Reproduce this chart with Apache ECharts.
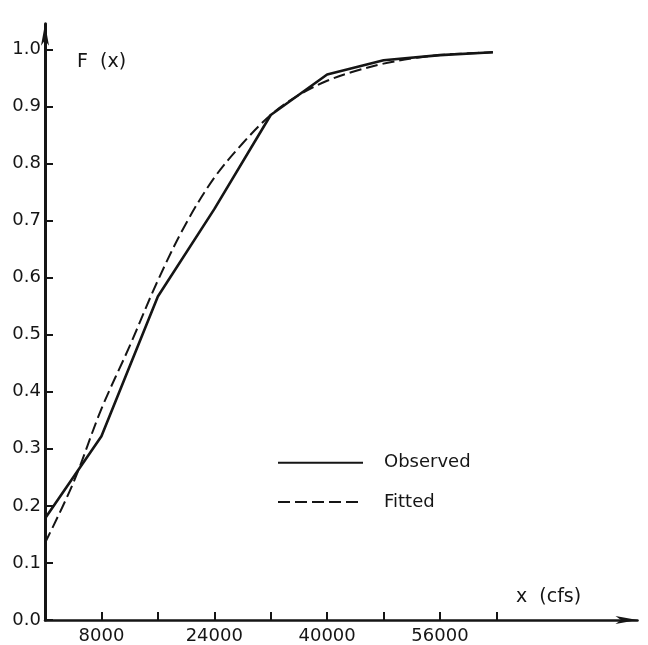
<!DOCTYPE html>
<html>
<head>
<meta charset="utf-8">
<script src="https://cdn.jsdelivr.net/npm/echarts@6/dist/echarts.min.js"></script>
<style>
html,body{margin:0;padding:0;background:#fff;}
#chart{width:648px;height:645px;}
</style>
</head>
<body>
<div id="chart"></div>
<script>
// ---- data ----
const xTickValues = [8000, 16000, 24000, 32000, 40000, 48000, 56000, 64000];
const xLabelValues = [8000, 24000, 40000, 56000];
const yTickValues = [0, 0.1, 0.2, 0.3, 0.4, 0.5, 0.6, 0.7, 0.8, 0.9, 1.0];

const observedX = [0, 8000, 16000, 24000, 32000, 40000, 48000, 56000, 63500];
const observedF = [0.178, 0.322, 0.567, 0.72, 0.885, 0.956, 0.981, 0.99, 0.995];

const fittedX = [0, 4000, 8000, 12000, 16000, 20000, 24000, 28000, 32000, 36000, 40000, 44000, 48000, 52000, 56000, 60000, 63500];
const fittedF = [0.135, 0.24, 0.37, 0.48, 0.595, 0.695, 0.775, 0.835, 0.885, 0.92, 0.945, 0.962, 0.975, 0.984, 0.99, 0.993, 0.995];

const seriesNames = ['Observed', 'Fitted'];
const yName = 'F  (x)';
const xName = 'x  (cfs)';

// ---- chart ----
const FONT = '"DejaVu Sans", Arial, sans-serif';
const INK = '#151515';
const chart = echarts.init(document.getElementById('chart'));

const zip = (xs, ys) => xs.map((x, i) => [x, ys[i]]);

chart.setOption({
  backgroundColor: '#ffffff',
  animation: false,
  grid: { left: 45, right: 10.5, top: 23.7, bottom: 24.5 },
  xAxis: {
    type: 'value', min: 0, max: 84000,
    splitLine: { show: false },
    axisLine: { show: true, lineStyle: { color: INK, width: 2.5 }, symbol: ['none', 'arrow'], symbolSize: [6, 22] },
    axisTick: { show: true, inside: true, length: 8, lineStyle: { color: INK, width: 2 }, customValues: xTickValues },
    axisLabel: { show: true, margin: 7, color: INK, fontFamily: FONT, fontSize: 18, customValues: xLabelValues, formatter: v => String(v) }
  },
  yAxis: {
    type: 'value', min: 0, max: 1.045,
    splitLine: { show: false },
    axisLine: { show: true, lineStyle: { color: INK, width: 3 }, symbol: ['none', 'arrow'], symbolSize: [6, 22] },
    axisTick: { show: true, inside: true, length: 8, lineStyle: { color: INK, width: 2 }, customValues: yTickValues },
    axisLabel: { show: true, margin: 4, color: INK, fontFamily: FONT, fontSize: 18, customValues: yTickValues, formatter: v => v.toFixed(1) }
  },
  legend: {
    orient: 'vertical', left: 272, top: 448.7,
    itemWidth: 85, itemHeight: 18, itemGap: 21.3,
    itemStyle: { opacity: 0 },
    textStyle: { color: INK, fontFamily: FONT, fontSize: 18, padding: [0, 0, 0, 16] },
    data: seriesNames
  },
  graphic: [
    { type: 'text', x: 77, y: 62, style: { text: yName, fill: INK, font: '19px ' + FONT, verticalAlign: 'middle' } },
    { type: 'text', x: 516, y: 597, style: { text: xName, fill: INK, font: '19px ' + FONT, verticalAlign: 'middle' } }
  ],
  series: [
    {
      name: seriesNames[0], type: 'line', data: zip(observedX, observedF),
      symbol: 'none', lineStyle: { color: INK, width: 2.6 }, itemStyle: { color: INK }
    },
    {
      name: seriesNames[1], type: 'line', data: zip(fittedX, fittedF),
      smooth: 0.35,
      symbol: 'none', lineStyle: { color: INK, width: 2, type: [12, 5] }, itemStyle: { color: INK }
    }
  ]
});
</script>
</body>
</html>
